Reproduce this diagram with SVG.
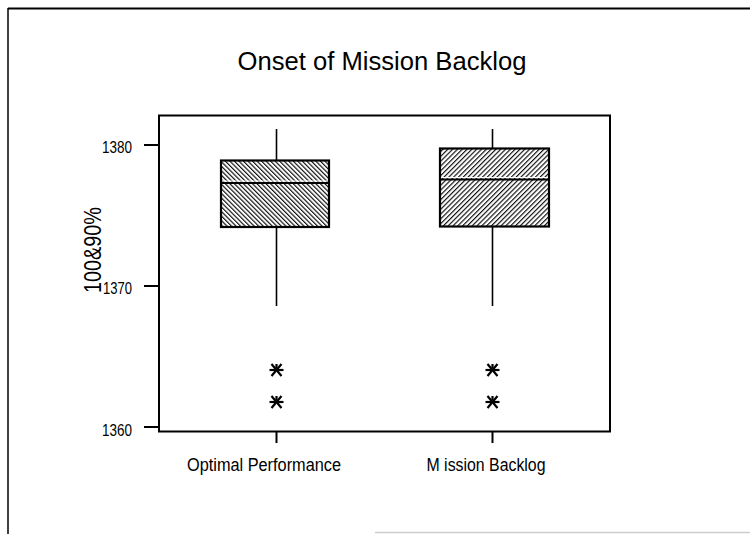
<svg xmlns="http://www.w3.org/2000/svg" width="750" height="534" viewBox="0 0 750 534">
  <style>
    text { font-family: "Liberation Sans", Arial, sans-serif; fill: #000; }
    .frame { fill: none; stroke: #000; stroke-width: 2; }
    .axis { stroke: #000; stroke-width: 2; fill: none; }
    .whisker { stroke: #000; stroke-width: 1.6; }
    .box { stroke: #000; stroke-width: 2.2; }
    .median { stroke: #000; stroke-width: 2.2; }
    .gap { stroke: #fff; stroke-width: 1.2; }
    .star { stroke: #000; stroke-width: 2.2; fill: none; }
    .tick-label { font-size: 16.5px; }
    .cat-label { font-size: 17.5px; }
  </style>
  <defs>
    <pattern id="hatchBack" width="3.2" height="10" patternUnits="userSpaceOnUse" patternTransform="rotate(-45)">
      <rect width="3.2" height="10" fill="#fff"/>
      <line x1="0.6" y1="0" x2="0.6" y2="10" stroke="#000" stroke-width="1.1"/>
    </pattern>
    <pattern id="hatchFwd" width="3.4" height="10" patternUnits="userSpaceOnUse" patternTransform="rotate(45)">
      <rect width="3.4" height="10" fill="#fff"/>
      <line x1="0.6" y1="0" x2="0.6" y2="10" stroke="#000" stroke-width="1.1"/>
    </pattern>
    <g id="asterisk">
      <line x1="-7" y1="0" x2="7" y2="0"/>
      <line x1="-5" y1="-6" x2="5" y2="6"/>
      <line x1="-5" y1="6" x2="5" y2="-6"/>
      <line x1="0" y1="-6" x2="0" y2="-2"/>
    </g>
  </defs>

  <rect width="750" height="534" fill="#fff"/>

  <!-- page border -->
  <g id="page-border">
    <line x1="8" y1="8.5" x2="750" y2="8.5" stroke="#000" stroke-width="2"/>
    <line x1="8" y1="8" x2="8" y2="534" stroke="#000" stroke-width="1.5"/>
    <line x1="375" y1="532.5" x2="750" y2="532.5" stroke="#ccc" stroke-width="1.5"/>
  </g>

  <!-- title -->
  <text id="title" x="382" y="70" font-size="25" text-anchor="middle" textLength="289" lengthAdjust="spacingAndGlyphs">Onset of Mission Backlog</text>

  <!-- plot area and axes -->
  <g id="plot-frame">
    <rect class="frame" x="159" y="115.5" width="451" height="316"/>
    <line class="axis" x1="144" y1="145" x2="159" y2="145"/>
    <line class="axis" x1="144" y1="286" x2="159" y2="286"/>
    <line class="axis" x1="144" y1="427" x2="159" y2="427"/>
    <line class="axis" x1="276.5" y1="432" x2="276.5" y2="443" stroke-width="1.5"/>
    <line class="axis" x1="492.5" y1="432" x2="492.5" y2="443" stroke-width="1.5"/>
  </g>

  <g id="y-axis-labels">
    <text class="tick-label" x="132" y="153" text-anchor="end" textLength="30" lengthAdjust="spacingAndGlyphs">1380</text>
    <text class="tick-label" x="132" y="294" text-anchor="end" textLength="29" lengthAdjust="spacingAndGlyphs">1370</text>
    <text class="tick-label" x="132" y="436" text-anchor="end" textLength="30" lengthAdjust="spacingAndGlyphs">1360</text>
    <text x="0" y="0" font-size="23" text-anchor="middle" textLength="86" lengthAdjust="spacingAndGlyphs" transform="translate(100.5,250) rotate(-90)">100&amp;90%</text>
  </g>

  <g id="x-axis-labels">
    <text class="cat-label" x="264" y="471" text-anchor="middle" textLength="154" lengthAdjust="spacingAndGlyphs">Optimal Performance</text>
    <text class="cat-label" x="486" y="471" text-anchor="middle" textLength="119" lengthAdjust="spacingAndGlyphs">M ission Backlog</text>
  </g>

  <!-- box: Optimal Performance -->
  <g id="box-optimal">
    <line class="whisker" x1="276.5" y1="129" x2="276.5" y2="160"/>
    <line class="whisker" x1="276.5" y1="227" x2="276.5" y2="306"/>
    <rect class="box" x="221" y="160.5" width="108" height="66.5" fill="url(#hatchBack)"/>
    <line class="gap" x1="222" y1="181" x2="328" y2="181"/>
    <line class="median" x1="221" y1="183" x2="329" y2="183"/>
    <use href="#asterisk" class="star" x="276.5" y="370"/>
    <use href="#asterisk" class="star" x="276.5" y="402"/>
  </g>

  <!-- box: Mission Backlog -->
  <g id="box-backlog">
    <line class="whisker" x1="492.5" y1="129" x2="492.5" y2="148"/>
    <line class="whisker" x1="492.5" y1="227" x2="492.5" y2="306"/>
    <rect class="box" x="440" y="148.5" width="109" height="78" fill="url(#hatchFwd)"/>
    <line class="gap" x1="441" y1="177.5" x2="548" y2="177.5"/>
    <line class="median" x1="440" y1="179.5" x2="549" y2="179.5"/>
    <use href="#asterisk" class="star" x="492.5" y="370"/>
    <use href="#asterisk" class="star" x="492.5" y="402"/>
  </g>
</svg>
